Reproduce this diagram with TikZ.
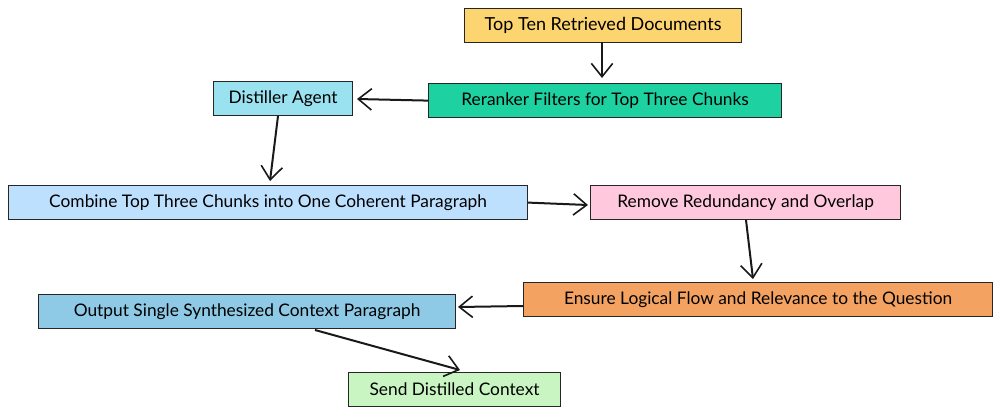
\documentclass[tikz,border=0pt]{standalone}
\usepackage{fontspec}
\setmainfont{Lato}
\usetikzlibrary{arrows.meta}
\definecolor{cTop}{HTML}{FDD570}
\definecolor{cRer}{HTML}{1DD1A1}
\definecolor{cDis}{HTML}{9BE2F0}
\definecolor{cCom}{HTML}{BDE0FE}
\definecolor{cRem}{HTML}{FFC8DD}
\definecolor{cEns}{HTML}{F4A261}
\definecolor{cOut}{HTML}{8ECAE6}
\definecolor{cSen}{HTML}{C9F5C3}
\tikzset{
  box/.style={draw=black!85, line width=0.9pt, minimum height=25.5pt, inner sep=0pt, font=\fontsize{13}{15}\selectfont, anchor=north west},
  arr/.style={draw=black!90, line width=1.5pt, -{Straight Barb[length=10pt,width=16pt,line width=1.2pt]}},
}
\begin{document}
\begin{tikzpicture}[x=0.75pt,y=-0.75pt]
\useasboundingbox (0,0) rectangle (1000,415);
\node[box, fill=cTop, minimum width=207.75pt, font=\fontsize{13.5}{15}\selectfont] (top) at (464,8) {Top Ten Retrieved Documents};
\node[box, fill=cRer, minimum width=264.75pt] (rer) at (428,83) {Reranker Filters for Top Three Chunks};
\node[box, fill=cDis, minimum width=104.25pt] (dis) at (213,81) {Distiller Agent};
\node[box, fill=cCom, minimum width=389.25pt] (com) at (8,185) {Combine Top Three Chunks into One Coherent Paragraph};
\node[box, fill=cRem, minimum width=232.5pt] (rem) at (590,185) {Remove Redundancy and Overlap};
\node[box, fill=cEns, minimum width=351.75pt] (ens) at (523,282) {Ensure Logical Flow and Relevance to the Question};
\node[box, fill=cOut, minimum width=312.75pt] (out) at (38,294) {Output Single Synthesized Context Paragraph};
\node[box, fill=cSen, minimum width=159pt] (sen) at (348,372) {Send Distilled Context};
\coordinate (a1) at (602,42);
\coordinate (a2) at (278,116);
\coordinate (a3) at (746,220);
\coordinate (a4) at (315,330);
\draw[arr] (a1) -- (602,78);
\draw[arr] (rer.west) -- (357,99);
\draw[arr] (a2) -- (270,181);
\draw[arr] (com.east) -- (588,205);
\draw[arr] (a3) -- (753,279);
\draw[arr] (ens.west |- 0,306) -- (458,307);
\draw[arr] (a4) -- (460,370);
\end{tikzpicture}
\end{document}
